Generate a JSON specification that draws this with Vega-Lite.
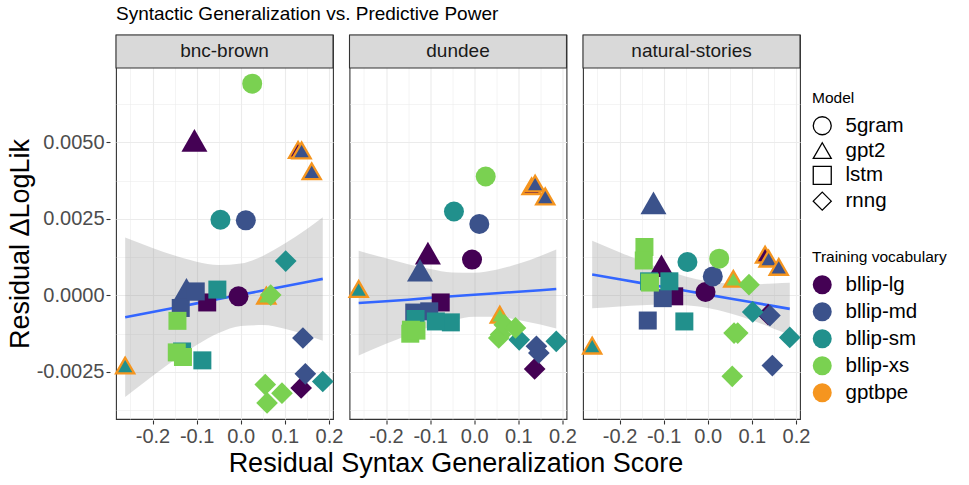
{
"$schema": "https://vega.github.io/schema/vega-lite/v6.json",
"background": "white",
"padding": {"left": 6, "top": 4, "right": 5, "bottom": 5},
"title": {"text": "Syntactic Generalization vs. Predictive Power", "anchor": "start", "frame": "group", "fontSize": 19, "fontWeight": "normal", "font": "Liberation Sans", "color": "#000000", "offset": 10},
"data": {"values": [
{"k":"fit","d":"bnc-brown","x":-0.262,"fit":-0.000713,"lo":-0.003315,"hi":0.00189},
{"k":"fit","d":"bnc-brown","x":-0.2,"fit":-0.00054,"lo":-0.00263,"hi":0.00155},
{"k":"fit","d":"bnc-brown","x":-0.15,"fit":-0.0004,"lo":-0.0021,"hi":0.0013},
{"k":"fit","d":"bnc-brown","x":-0.1,"fit":-0.00026,"lo":-0.00162,"hi":0.0011},
{"k":"fit","d":"bnc-brown","x":-0.05,"fit":-0.00012,"lo":-0.00123,"hi":0.00099},
{"k":"fit","d":"bnc-brown","x":0,"fit":0.00002,"lo":-0.001,"hi":0.00104},
{"k":"fit","d":"bnc-brown","x":0.05,"fit":0.00016,"lo":-0.00097,"hi":0.00129},
{"k":"fit","d":"bnc-brown","x":0.1,"fit":0.0003,"lo":-0.00109,"hi":0.00169},
{"k":"fit","d":"bnc-brown","x":0.15,"fit":0.00044,"lo":-0.0013,"hi":0.00217},
{"k":"fit","d":"bnc-brown","x":0.186,"fit":0.00054,"lo":-0.00148,"hi":0.00255},
{"k":"fit","d":"dundee","x":-0.262,"fit":-0.00025,"lo":-0.00196,"hi":0.00146},
{"k":"fit","d":"dundee","x":-0.2,"fit":-0.00019,"lo":-0.00158,"hi":0.00121},
{"k":"fit","d":"dundee","x":-0.15,"fit":-0.00014,"lo":-0.00129,"hi":0.00102},
{"k":"fit","d":"dundee","x":-0.1,"fit":-0.00008,"lo":-0.00102,"hi":0.00086},
{"k":"fit","d":"dundee","x":-0.05,"fit":-0.00003,"lo":-0.00082,"hi":0.00075},
{"k":"fit","d":"dundee","x":0,"fit":0.00002,"lo":-0.0007,"hi":0.00074},
{"k":"fit","d":"dundee","x":0.05,"fit":0.00007,"lo":-0.0007,"hi":0.00084},
{"k":"fit","d":"dundee","x":0.1,"fit":0.00012,"lo":-0.0008,"hi":0.00103},
{"k":"fit","d":"dundee","x":0.15,"fit":0.00017,"lo":-0.00095,"hi":0.00129},
{"k":"fit","d":"dundee","x":0.186,"fit":0.00021,"lo":-0.00108,"hi":0.0015},
{"k":"fit","d":"natural-stories","x":-0.262,"fit":0.00068,"lo":-0.00042,"hi":0.00178},
{"k":"fit","d":"natural-stories","x":-0.2,"fit":0.000525,"lo":-0.00036,"hi":0.00141},
{"k":"fit","d":"natural-stories","x":-0.15,"fit":0.0004,"lo":-0.00032,"hi":0.00112},
{"k":"fit","d":"natural-stories","x":-0.1,"fit":0.000275,"lo":-0.0003,"hi":0.00085},
{"k":"fit","d":"natural-stories","x":-0.05,"fit":0.00015,"lo":-0.00032,"hi":0.00062},
{"k":"fit","d":"natural-stories","x":0,"fit":0.000025,"lo":-0.00041,"hi":0.00046},
{"k":"fit","d":"natural-stories","x":0.05,"fit":-0.0001,"lo":-0.00058,"hi":0.00038},
{"k":"fit","d":"natural-stories","x":0.1,"fit":-0.000225,"lo":-0.00081,"hi":0.00036},
{"k":"fit","d":"natural-stories","x":0.15,"fit":-0.00035,"lo":-0.00109,"hi":0.00039},
{"k":"fit","d":"natural-stories","x":0.186,"fit":-0.00044,"lo":-0.00129,"hi":0.00041},

{"k":"pt","d":"bnc-brown","m":"5gram","c":"bllip-lg","v":"bllip-lg","x":-0.005,"y":-0.00003},
{"k":"pt","d":"bnc-brown","m":"gpt2","c":"bllip-lg","v":"bllip-lg","x":-0.105,"y":0.00506},
{"k":"pt","d":"bnc-brown","m":"gpt2","c":"bllip-lg","v":"gptbpe","x":0.13,"y":0.00475},
{"k":"pt","d":"bnc-brown","m":"lstm","c":"bllip-lg","v":"bllip-lg","x":-0.076,"y":-0.00023},
{"k":"pt","d":"bnc-brown","m":"rnng","c":"bllip-lg","v":"bllip-lg","x":0.137,"y":-0.00302},
{"k":"pt","d":"bnc-brown","m":"5gram","c":"bllip-md","v":"bllip-md","x":0.0115,"y":0.00245},
{"k":"pt","d":"bnc-brown","m":"gpt2","c":"bllip-md","v":"bllip-md","x":-0.123,"y":0.0002},
{"k":"pt","d":"bnc-brown","m":"gpt2","c":"bllip-md","v":"gptbpe","x":0.138,"y":0.00473},
{"k":"pt","d":"bnc-brown","m":"gpt2","c":"bllip-md","v":"gptbpe","x":0.161,"y":0.00405},
{"k":"pt","d":"bnc-brown","m":"lstm","c":"bllip-md","v":"bllip-md","x":-0.136,"y":-0.00041},
{"k":"pt","d":"bnc-brown","m":"lstm","c":"bllip-md","v":"bllip-md","x":-0.102,"y":0.00013},
{"k":"pt","d":"bnc-brown","m":"rnng","c":"bllip-md","v":"bllip-md","x":0.141,"y":-0.00139},
{"k":"pt","d":"bnc-brown","m":"rnng","c":"bllip-md","v":"bllip-md","x":0.1465,"y":-0.00256},
{"k":"pt","d":"bnc-brown","m":"5gram","c":"bllip-sm","v":"bllip-sm","x":-0.046,"y":0.00247},
{"k":"pt","d":"bnc-brown","m":"gpt2","c":"bllip-sm","v":"gptbpe","x":-0.262,"y":-0.00229},
{"k":"pt","d":"bnc-brown","m":"lstm","c":"bllip-sm","v":"bllip-sm","x":-0.053,"y":0.00019},
{"k":"pt","d":"bnc-brown","m":"lstm","c":"bllip-sm","v":"bllip-sm","x":-0.133,"y":-0.00183},
{"k":"pt","d":"bnc-brown","m":"lstm","c":"bllip-sm","v":"bllip-sm","x":-0.087,"y":-0.00212},
{"k":"pt","d":"bnc-brown","m":"rnng","c":"bllip-sm","v":"bllip-sm","x":0.102,"y":0.00112},
{"k":"pt","d":"bnc-brown","m":"rnng","c":"bllip-sm","v":"bllip-sm","x":0.186,"y":-0.00281},
{"k":"pt","d":"bnc-brown","m":"5gram","c":"bllip-xs","v":"bllip-xs","x":0.026,"y":0.00691},
{"k":"pt","d":"bnc-brown","m":"gpt2","c":"bllip-xs","v":"gptbpe","x":0.058,"y":-0.00001},
{"k":"pt","d":"bnc-brown","m":"lstm","c":"bllip-xs","v":"bllip-xs","x":-0.1435,"y":-0.00083},
{"k":"pt","d":"bnc-brown","m":"lstm","c":"bllip-xs","v":"bllip-xs","x":-0.145,"y":-0.00186},
{"k":"pt","d":"bnc-brown","m":"lstm","c":"bllip-xs","v":"bllip-xs","x":-0.131,"y":-0.00201},
{"k":"pt","d":"bnc-brown","m":"rnng","c":"bllip-xs","v":"bllip-xs","x":0.0556,"y":-0.00291},
{"k":"pt","d":"bnc-brown","m":"rnng","c":"bllip-xs","v":"bllip-xs","x":0.0597,"y":-0.00351},
{"k":"pt","d":"bnc-brown","m":"rnng","c":"bllip-xs","v":"bllip-xs","x":0.068,"y":0.00001},
{"k":"pt","d":"bnc-brown","m":"rnng","c":"bllip-xs","v":"bllip-xs","x":0.0935,"y":-0.00319},

{"k":"pt","d":"dundee","m":"5gram","c":"bllip-lg","v":"bllip-lg","x":-0.005,"y":0.00117},
{"k":"pt","d":"dundee","m":"gpt2","c":"bllip-lg","v":"bllip-lg","x":-0.105,"y":0.00138},
{"k":"pt","d":"dundee","m":"gpt2","c":"bllip-lg","v":"gptbpe","x":0.13,"y":0.00356},
{"k":"pt","d":"dundee","m":"lstm","c":"bllip-lg","v":"bllip-lg","x":-0.076,"y":-0.00023},
{"k":"pt","d":"dundee","m":"rnng","c":"bllip-lg","v":"bllip-lg","x":0.137,"y":-0.0024},
{"k":"pt","d":"dundee","m":"5gram","c":"bllip-md","v":"bllip-md","x":0.0115,"y":0.00233},
{"k":"pt","d":"dundee","m":"gpt2","c":"bllip-md","v":"bllip-md","x":-0.123,"y":0.00082},
{"k":"pt","d":"dundee","m":"gpt2","c":"bllip-md","v":"gptbpe","x":0.138,"y":0.00365},
{"k":"pt","d":"dundee","m":"gpt2","c":"bllip-md","v":"gptbpe","x":0.161,"y":0.00323},
{"k":"pt","d":"dundee","m":"lstm","c":"bllip-md","v":"bllip-md","x":-0.136,"y":-0.00056},
{"k":"pt","d":"dundee","m":"lstm","c":"bllip-md","v":"bllip-md","x":-0.102,"y":-0.00052},
{"k":"pt","d":"dundee","m":"rnng","c":"bllip-md","v":"bllip-md","x":0.141,"y":-0.00166},
{"k":"pt","d":"dundee","m":"rnng","c":"bllip-md","v":"bllip-md","x":0.1465,"y":-0.00188},
{"k":"pt","d":"dundee","m":"5gram","c":"bllip-sm","v":"bllip-sm","x":-0.046,"y":0.00274},
{"k":"pt","d":"dundee","m":"gpt2","c":"bllip-sm","v":"gptbpe","x":-0.262,"y":0.00021},
{"k":"pt","d":"dundee","m":"lstm","c":"bllip-sm","v":"bllip-sm","x":-0.053,"y":-0.00088},
{"k":"pt","d":"dundee","m":"lstm","c":"bllip-sm","v":"bllip-sm","x":-0.133,"y":-0.00077},
{"k":"pt","d":"dundee","m":"lstm","c":"bllip-sm","v":"bllip-sm","x":-0.087,"y":-0.00085},
{"k":"pt","d":"dundee","m":"rnng","c":"bllip-sm","v":"bllip-sm","x":0.102,"y":-0.00145},
{"k":"pt","d":"dundee","m":"rnng","c":"bllip-sm","v":"bllip-sm","x":0.186,"y":-0.0015},
{"k":"pt","d":"dundee","m":"5gram","c":"bllip-xs","v":"bllip-xs","x":0.026,"y":0.00388},
{"k":"pt","d":"dundee","m":"gpt2","c":"bllip-xs","v":"gptbpe","x":0.058,"y":-0.00063},
{"k":"pt","d":"dundee","m":"lstm","c":"bllip-xs","v":"bllip-xs","x":-0.1435,"y":-0.00112},
{"k":"pt","d":"dundee","m":"lstm","c":"bllip-xs","v":"bllip-xs","x":-0.145,"y":-0.00125},
{"k":"pt","d":"dundee","m":"lstm","c":"bllip-xs","v":"bllip-xs","x":-0.131,"y":-0.00115},
{"k":"pt","d":"dundee","m":"rnng","c":"bllip-xs","v":"bllip-xs","x":0.0556,"y":-0.00139},
{"k":"pt","d":"dundee","m":"rnng","c":"bllip-xs","v":"bllip-xs","x":0.0597,"y":-0.00128},
{"k":"pt","d":"dundee","m":"rnng","c":"bllip-xs","v":"bllip-xs","x":0.068,"y":-0.00096},
{"k":"pt","d":"dundee","m":"rnng","c":"bllip-xs","v":"bllip-xs","x":0.0935,"y":-0.00106},

{"k":"pt","d":"natural-stories","m":"5gram","c":"bllip-lg","v":"bllip-lg","x":-0.005,"y":0.00011},
{"k":"pt","d":"natural-stories","m":"gpt2","c":"bllip-lg","v":"bllip-lg","x":-0.105,"y":0.00097},
{"k":"pt","d":"natural-stories","m":"gpt2","c":"bllip-lg","v":"gptbpe","x":0.13,"y":0.00133},
{"k":"pt","d":"natural-stories","m":"lstm","c":"bllip-lg","v":"bllip-lg","x":-0.076,"y":-0.00003},
{"k":"pt","d":"natural-stories","m":"rnng","c":"bllip-lg","v":"bllip-lg","x":0.137,"y":-0.00063},
{"k":"pt","d":"natural-stories","m":"5gram","c":"bllip-md","v":"bllip-md","x":0.0115,"y":0.00062},
{"k":"pt","d":"natural-stories","m":"gpt2","c":"bllip-md","v":"bllip-md","x":-0.123,"y":0.00302},
{"k":"pt","d":"natural-stories","m":"gpt2","c":"bllip-md","v":"gptbpe","x":0.138,"y":0.0012},
{"k":"pt","d":"natural-stories","m":"gpt2","c":"bllip-md","v":"gptbpe","x":0.161,"y":0.00093},
{"k":"pt","d":"natural-stories","m":"lstm","c":"bllip-md","v":"bllip-md","x":-0.136,"y":-0.00082},
{"k":"pt","d":"natural-stories","m":"lstm","c":"bllip-md","v":"bllip-md","x":-0.102,"y":-0.00009},
{"k":"pt","d":"natural-stories","m":"rnng","c":"bllip-md","v":"bllip-md","x":0.141,"y":-0.00066},
{"k":"pt","d":"natural-stories","m":"rnng","c":"bllip-md","v":"bllip-md","x":0.1465,"y":-0.00229},
{"k":"pt","d":"natural-stories","m":"5gram","c":"bllip-sm","v":"bllip-sm","x":-0.046,"y":0.00109},
{"k":"pt","d":"natural-stories","m":"gpt2","c":"bllip-sm","v":"gptbpe","x":-0.262,"y":-0.00164},
{"k":"pt","d":"natural-stories","m":"lstm","c":"bllip-sm","v":"bllip-sm","x":-0.053,"y":-0.00085},
{"k":"pt","d":"natural-stories","m":"lstm","c":"bllip-sm","v":"bllip-sm","x":-0.133,"y":0.00046},
{"k":"pt","d":"natural-stories","m":"lstm","c":"bllip-sm","v":"bllip-sm","x":-0.087,"y":0.00046},
{"k":"pt","d":"natural-stories","m":"rnng","c":"bllip-sm","v":"bllip-sm","x":0.102,"y":-0.00054},
{"k":"pt","d":"natural-stories","m":"rnng","c":"bllip-sm","v":"bllip-sm","x":0.186,"y":-0.00137},
{"k":"pt","d":"natural-stories","m":"5gram","c":"bllip-xs","v":"bllip-xs","x":0.026,"y":0.0012},
{"k":"pt","d":"natural-stories","m":"gpt2","c":"bllip-xs","v":"gptbpe","x":0.058,"y":0.00054},
{"k":"pt","d":"natural-stories","m":"lstm","c":"bllip-xs","v":"bllip-xs","x":-0.1435,"y":0.00158},
{"k":"pt","d":"natural-stories","m":"lstm","c":"bllip-xs","v":"bllip-xs","x":-0.145,"y":0.00114},
{"k":"pt","d":"natural-stories","m":"lstm","c":"bllip-xs","v":"bllip-xs","x":-0.131,"y":0.00042},
{"k":"pt","d":"natural-stories","m":"rnng","c":"bllip-xs","v":"bllip-xs","x":0.0556,"y":-0.00264},
{"k":"pt","d":"natural-stories","m":"rnng","c":"bllip-xs","v":"bllip-xs","x":0.0597,"y":-0.00123},
{"k":"pt","d":"natural-stories","m":"rnng","c":"bllip-xs","v":"bllip-xs","x":0.068,"y":-0.00123},
{"k":"pt","d":"natural-stories","m":"rnng","c":"bllip-xs","v":"bllip-xs","x":0.0935,"y":0.00035}
]},
"facet": {"column": {"field": "d", "type": "nominal", "title": "Residual Syntax Generalization Score", "header": {"labels": false, "titleOrient": "bottom", "titleFontSize": 27, "titleColor": "#000000", "titleFont": "Liberation Sans", "titleFontWeight": "normal", "titlePadding": -5}}},
"spacing": 8.5,
"spec": {
"width": 217, "height": 384,
"view": {"fill": "white", "stroke": "#333333", "strokeWidth": 1.1},
"layer": [
{
"transform": [{"filter": "datum.k === 'fit'"}],
"mark": {"type": "area", "color": "#999999", "opacity": 0.33, "interpolate": "monotone"},
"encoding": {
"x": {"field": "x", "type": "quantitative", "scale": {"domain": [-0.2828, 0.2092], "nice": false, "zero": false},
"axis": {"title": null, "values": [-0.25,-0.2,-0.15,-0.1,-0.05,0,0.05,0.1,0.15,0.2], "labelOverlap": false, "labelFlush": false,
"labelExpr": "abs(datum.value*10 - round(datum.value*10)) < 0.001 ? (datum.value < -0.0001 ? '-' : '') + format(abs(datum.value), '.1f') : ''",
"tickOpacity": {"condition": {"test": "abs(datum.value*10 - round(datum.value*10)) < 0.001", "value": 1}, "value": 0},
"gridWidth": {"condition": {"test": "abs(datum.value*10 - round(datum.value*10)) < 0.001", "value": 1.1}, "value": 0.55}}},
"y": {"field": "lo", "type": "quantitative", "scale": {"domain": [-0.004034, 0.0084991], "nice": false, "zero": false},
"axis": {"title": "Residual ΔLogLik", "titlePadding": 2, "titleY": 208.5, "values": [-0.00375,-0.0025,-0.00125,0,0.00125,0.0025,0.00375,0.005,0.00625], "labelOverlap": false, "labelFlush": false,
"labelExpr": "abs(datum.value/0.0025 - round(datum.value/0.0025)) < 0.001 ? (datum.value < -0.000001 ? '-' : '') + format(abs(datum.value), '.4f') : ''",
"tickOpacity": {"condition": {"test": "abs(datum.value/0.0025 - round(datum.value/0.0025)) < 0.001", "value": 1}, "value": 0},
"gridWidth": {"condition": {"test": "abs(datum.value/0.0025 - round(datum.value/0.0025)) < 0.001", "value": 1.1}, "value": 0.55}}},
"y2": {"field": "hi"}
}
},
{
"transform": [{"filter": "datum.k === 'fit'"}],
"mark": {"type": "line", "color": "#3366FF", "strokeWidth": 2.6},
"encoding": {
"x": {"field": "x", "type": "quantitative", "scale": {"domain": [-0.2828, 0.2092], "nice": false, "zero": false},
"axis": {"title": null, "values": [-0.25,-0.2,-0.15,-0.1,-0.05,0,0.05,0.1,0.15,0.2], "labelOverlap": false, "labelFlush": false,
"labelExpr": "abs(datum.value*10 - round(datum.value*10)) < 0.001 ? (datum.value < -0.0001 ? '-' : '') + format(abs(datum.value), '.1f') : ''",
"tickOpacity": {"condition": {"test": "abs(datum.value*10 - round(datum.value*10)) < 0.001", "value": 1}, "value": 0},
"gridWidth": {"condition": {"test": "abs(datum.value*10 - round(datum.value*10)) < 0.001", "value": 1.1}, "value": 0.55}}},
"y": {"field": "fit", "type": "quantitative", "scale": {"domain": [-0.004034, 0.0084991], "nice": false, "zero": false},
"axis": {"title": "Residual ΔLogLik", "titlePadding": 2, "titleY": 208.5, "values": [-0.00375,-0.0025,-0.00125,0,0.00125,0.0025,0.00375,0.005,0.00625], "labelOverlap": false, "labelFlush": false,
"labelExpr": "abs(datum.value/0.0025 - round(datum.value/0.0025)) < 0.001 ? (datum.value < -0.000001 ? '-' : '') + format(abs(datum.value), '.4f') : ''",
"tickOpacity": {"condition": {"test": "abs(datum.value/0.0025 - round(datum.value/0.0025)) < 0.001", "value": 1}, "value": 0},
"gridWidth": {"condition": {"test": "abs(datum.value/0.0025 - round(datum.value/0.0025)) < 0.001", "value": 1.1}, "value": 0.55}}}
}
},
{
"transform": [{"filter": "datum.k === 'pt'"}],
"mark": {"type": "point", "filled": true, "opacity": 1},
"encoding": {
"x": {"field": "x", "type": "quantitative", "scale": {"domain": [-0.2828, 0.2092], "nice": false, "zero": false},
"axis": {"title": null, "values": [-0.25,-0.2,-0.15,-0.1,-0.05,0,0.05,0.1,0.15,0.2], "labelOverlap": false, "labelFlush": false,
"labelExpr": "abs(datum.value*10 - round(datum.value*10)) < 0.001 ? (datum.value < -0.0001 ? '-' : '') + format(abs(datum.value), '.1f') : ''",
"tickOpacity": {"condition": {"test": "abs(datum.value*10 - round(datum.value*10)) < 0.001", "value": 1}, "value": 0},
"gridWidth": {"condition": {"test": "abs(datum.value*10 - round(datum.value*10)) < 0.001", "value": 1.1}, "value": 0.55}}},
"y": {"field": "y", "type": "quantitative", "scale": {"domain": [-0.004034, 0.0084991], "nice": false, "zero": false},
"axis": {"title": "Residual ΔLogLik", "titlePadding": 2, "titleY": 208.5, "values": [-0.00375,-0.0025,-0.00125,0,0.00125,0.0025,0.00375,0.005,0.00625], "labelOverlap": false, "labelFlush": false,
"labelExpr": "abs(datum.value/0.0025 - round(datum.value/0.0025)) < 0.001 ? (datum.value < -0.000001 ? '-' : '') + format(abs(datum.value), '.4f') : ''",
"tickOpacity": {"condition": {"test": "abs(datum.value/0.0025 - round(datum.value/0.0025)) < 0.001", "value": 1}, "value": 0},
"gridWidth": {"condition": {"test": "abs(datum.value/0.0025 - round(datum.value/0.0025)) < 0.001", "value": 1.1}, "value": 0.55}}},
"shape": {"field": "m", "type": "nominal", "scale": {"domain": ["5gram","gpt2","lstm","rnng"], "range": ["circle","triangle-up","square","diamond"]},
"legend": {"title": "Model", "orient": "none", "legendX": 696, "legendY": 56, "symbolSize": 324, "rowPadding": 1.8,
"symbolFillColor": "transparent", "symbolStrokeColor": "#000000", "symbolStrokeWidth": 1.3, "symbolOpacity": 1}},
"fill": {"field": "c", "type": "nominal", "scale": {"domain": ["bllip-lg","bllip-md","bllip-sm","bllip-xs","gptbpe"], "range": ["#440154","#3B528B","#21908C","#7AD151","#F5951F"]},
"legend": {"title": "Training vocabulary", "orient": "none", "legendX": 696, "legendY": 215, "symbolSize": 361, "symbolType": "circle", "symbolStrokeWidth": 0, "rowPadding": 6}},
"stroke": {"field": "v", "type": "nominal", "scale": {"domain": ["bllip-lg","bllip-md","bllip-sm","bllip-xs","gptbpe"], "range": ["#440154","#3B528B","#21908C","#7AD151","#F5951F"]},
"legend": {"title": "Training vocabulary", "orient": "none", "legendX": 696, "legendY": 215, "symbolSize": 361, "symbolType": "circle", "symbolStrokeWidth": 0, "rowPadding": 6}},
"size": {"condition": [{"test": "datum.v === 'gptbpe'", "value": 330}, {"test": "datum.m === 'gpt2'", "value": 676}, {"test": "datum.m === 'rnng'", "value": 470}, {"test": "datum.m === 'lstm'", "value": 324}], "value": 400},
"strokeWidth": {"condition": {"test": "datum.v === 'gptbpe'", "value": 2.3}, "value": 0}
}
},
{
"transform": [{"filter": "datum.k === 'fit' && datum.x === 0"}],
"mark": {"type": "rect", "fill": "#d9d9d9", "stroke": "#333333", "strokeWidth": 1.1},
"encoding": {
"y": {"datum": 0.007422, "type": "quantitative", "scale": {"domain": [-0.004034, 0.0084991], "nice": false, "zero": false},
"axis": {"title": "Residual ΔLogLik", "titlePadding": 2, "titleY": 208.5, "values": [-0.00375,-0.0025,-0.00125,0,0.00125,0.0025,0.00375,0.005,0.00625], "labelOverlap": false, "labelFlush": false,
"labelExpr": "abs(datum.value/0.0025 - round(datum.value/0.0025)) < 0.001 ? (datum.value < -0.000001 ? '-' : '') + format(abs(datum.value), '.4f') : ''",
"tickOpacity": {"condition": {"test": "abs(datum.value/0.0025 - round(datum.value/0.0025)) < 0.001", "value": 1}, "value": 0},
"gridWidth": {"condition": {"test": "abs(datum.value/0.0025 - round(datum.value/0.0025)) < 0.001", "value": 1.1}, "value": 0.55}}},
"y2": {"datum": 0.0084991}
}
},
{
"transform": [{"filter": "datum.k === 'fit' && datum.x === 0"}],
"mark": {"type": "text", "fontSize": 19, "font": "Liberation Sans", "color": "#1a1a1a"},
"encoding": {
"y": {"datum": 0.0079606, "type": "quantitative", "scale": {"domain": [-0.004034, 0.0084991], "nice": false, "zero": false},
"axis": {"title": "Residual ΔLogLik", "titlePadding": 2, "titleY": 208.5, "values": [-0.00375,-0.0025,-0.00125,0,0.00125,0.0025,0.00375,0.005,0.00625], "labelOverlap": false, "labelFlush": false,
"labelExpr": "abs(datum.value/0.0025 - round(datum.value/0.0025)) < 0.001 ? (datum.value < -0.000001 ? '-' : '') + format(abs(datum.value), '.4f') : ''",
"tickOpacity": {"condition": {"test": "abs(datum.value/0.0025 - round(datum.value/0.0025)) < 0.001", "value": 1}, "value": 0},
"gridWidth": {"condition": {"test": "abs(datum.value/0.0025 - round(datum.value/0.0025)) < 0.001", "value": 1.1}, "value": 0.55}}},
"text": {"field": "d", "type": "nominal"}
}
}
]
},
"config": {
"font": "Liberation Sans",
"axis": {"domain": false, "gridColor": "#ebebeb", "tickColor": "#333333", "tickSize": 4, "tickWidth": 1.1, "labelColor": "#4d4d4d", "labelFontSize": 20, "labelFont": "Liberation Sans", "titleFont": "Liberation Sans", "titleFontSize": 27, "titleFontWeight": "normal", "titleColor": "#000000", "labelPadding": 2},
"legend": {"titleFontSize": 15.5, "titleFont": "Liberation Sans", "titleFontWeight": "normal", "titleColor": "#000000", "labelFontSize": 20.5, "labelFont": "Liberation Sans", "labelColor": "#000000", "titlePadding": 9, "labelOffset": 13}
}
}
